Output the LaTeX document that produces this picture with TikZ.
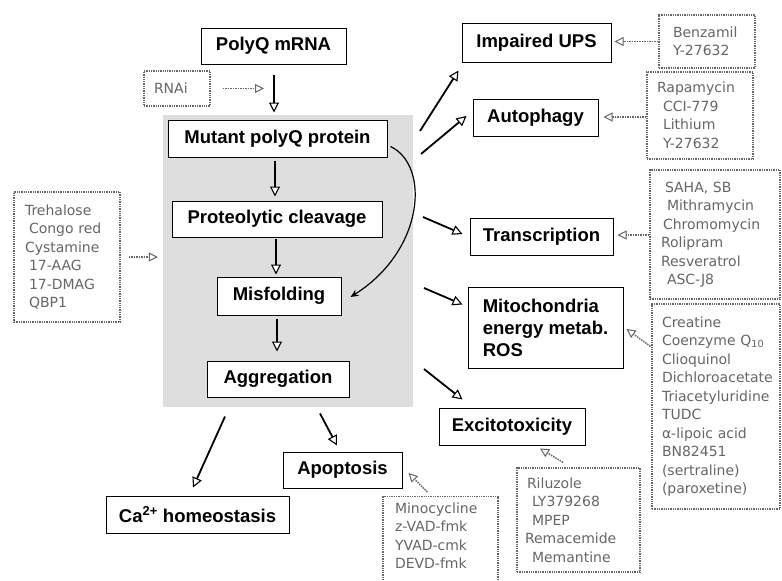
\documentclass[tikz,border=0pt]{standalone}
\usepackage{fontspec}
\setmainfont{Liberation Sans}
\newfontfamily\drugfont{DejaVu Sans}
\usetikzlibrary{arrows.meta,calc}
\begin{document}
\begin{tikzpicture}[x=1pt,y=-1pt,
  mbox/.style={draw=black, line width=1pt, fill=white, inner sep=0pt,
    font=\bfseries\fontsize{18.5}{22}\selectfont},
  drug/.style={draw=black!60, densely dotted, line width=1.3pt, text=black!60,
    font=\drugfont\fontsize{14}{18.5}\selectfont, align=left, inner ysep=0pt},
  flow/.style={line width=1.8pt, -{Triangle[fill=white, length=10pt, width=10pt, line width=1.1pt]}},
  drugarrow/.style={draw=black!60, densely dotted, line width=1.5pt,
    -{Triangle[fill=white, length=9pt, width=9pt, line width=1pt]}},
  curvearrow/.style={line width=1.2pt, -{Stealth[length=8pt, width=7pt]}}]
\useasboundingbox (0,0) rectangle (782,581);
\fill[white] (0,0) rectangle (782,581);

% shaded region
\node[fill=black!13, draw=none, minimum width=250, minimum height=292, inner sep=0pt] (region) at (288,261) {};

% main boxes
\node[mbox, minimum width=145, minimum height=36] (mrna) at (273.5,46) {PolyQ mRNA};
\node[mbox, minimum width=219, minimum height=37] (mutant) at (277.5,138.5) {Mutant polyQ protein};
\node[mbox, minimum width=210, minimum height=36] (cleave) at (277,219) {Proteolytic cleavage};
\node[mbox, minimum width=124, minimum height=38] (misf) at (279,296) {Misfolding};
\node[mbox, minimum width=142, minimum height=36] (aggr) at (278,379) {Aggregation};
\node[mbox, minimum width=149, minimum height=39] (ups) at (536.5,42.5) {Impaired UPS};
\node[mbox, minimum width=125, minimum height=37] (auto) at (535.5,117.5) {Autophagy};
\node[mbox, minimum width=143, minimum height=37] (trans) at (541.5,236.5) {Transcription};
\node[mbox, minimum width=155, minimum height=81, align=left] (mito) at (545.5,327.5) {Mitochondria\\energy metab.\\ROS};
\node[mbox, minimum width=146, minimum height=37] (excito) at (512,426.5) {Excitotoxicity};
\node[mbox, minimum width=119, minimum height=36] (apop) at (342.5,470) {Apoptosis};
\node[mbox, minimum width=183, minimum height=37] (ca) at (197.5,514.5) {Ca\textsuperscript{2+} homeostasis};

% drug boxes
\node[drug, inner xsep=10pt, text width=46pt, minimum height=35] (rnai) at (177,88.5) {RNAi};
\node[drug, inner xsep=11pt, text width=84pt, minimum height=130] (treh) at (67,257) {Trehalose\\\hspace*{4pt}Congo red\\Cystamine\\\hspace*{4pt}17-AAG\\\hspace*{4pt}17-DMAG\\\hspace*{4pt}QBP1};
\node[drug, inner xsep=14pt, text width=68pt, minimum height=53] (benz) at (707,41.5) {Benzamil\\Y-27632};
\node[drug, inner xsep=10pt, text width=86pt, minimum height=87] (rapa) at (700,115.5) {Rapamycin\\\hspace*{6pt}CCI-779\\\hspace*{6pt}Lithium\\\hspace*{6pt}Y-27632};
\node[drug, inner xsep=11pt, text width=108pt, minimum height=129] (saha) at (715,234.5) {\hspace*{4pt}SAHA, SB\\\hspace*{6pt}Mithramycin\\\hspace*{2pt}Chromomycin\\Rolipram\\Resveratrol\\\hspace*{6pt}ASC-J8};
\node[drug, inner xsep=10pt, text width=108pt, minimum height=205] (creat) at (716,406.5) {Creatine\\Coenzyme Q\textsubscript{10}\\Clioquinol\\Dichloroacetate\\Triacetyluridine\\TUDC\\α-lipoic acid\\BN82451\\(sertraline)\\(paroxetine)};
\node[drug, inner xsep=8pt, text width=107pt, minimum height=104] (rilu) at (578.5,520) {\hspace*{2pt}Riluzole\\\hspace*{7pt}LY379268\\\hspace*{7pt}MPEP\\Remacemide\\\hspace*{7pt}Memantine};
\node[drug, inner xsep=12pt, text width=91pt, inner ysep=6pt, anchor=north] (mino) at (440.5,496) {Minocycline\\z-VAD-fmk\\YVAD-cmk\\DEVD-fmk\vspace*{12pt}};

% flow arrows
\draw[flow] (mrna.south) ++(0.5,10) -- ($(mrna.south |- mutant.north)+(0.5,-7)$);
\draw[flow, shorten <=3pt, shorten >=4pt] (mutant.south -| 275,0) -- (cleave.north -| 275,0);
\draw[flow, shorten <=1pt, shorten >=2pt] (cleave.south -| 276,0) -- (misf.north -| 276,0);
\draw[flow, shorten <=3pt, shorten >=9pt] (misf.south -| 277,0) -- (aggr.north -| 277,0);

\coordinate (o1) at (420,131);
\coordinate (o2) at (421,154);
\coordinate (o3) at (423,217);
\coordinate (o4) at (424,288);
\coordinate (o5) at (424,369);
\draw[flow] (o1) -- ($(ups.south west)+(-3,8)$);
\draw[flow] (o2) -- ($(auto.west)+(-6,-1.5)$);
\draw[flow] (o3) -- ($(trans.west)+(-7,-2.5)$);
\draw[flow] (o4) -- ($(mito.north west)+(-5,18)$);
\draw[flow] (o5) -- ($(excito.north west)+(24,-8)$);
\draw[flow] ($(aggr.south)+(42,16)$) -- ($(apop.north)+(-5.5,-6)$);
\draw[flow] ($(aggr.south)+(-53,19)$) -- ($(ca.north)+(-4.5,-8)$);

% curved arrow
\draw[curvearrow] ($(mutant.east)+(3,8)$) .. controls (430,165) and (425,250) .. ($(misf.east)+(9,1)$);

% drug arrows
\coordinate (rnaitip) at (264,88.5);
\draw[drugarrow, shorten <=12pt] (rnai.east) -- (rnaitip);
\draw[drugarrow, shorten <=8pt, shorten >=5pt] (treh.east) -- (treh.east -| region.west);
\draw[drugarrow, shorten >=3pt] (benz.west) -- (benz.west -| ups.east);
\draw[drugarrow, shorten >=5pt] (rapa.west |- 0,117) -- (auto.east |- 0,117);
\draw[drugarrow, shorten >=4pt] (saha.west |- 0,235) -- (trans.east |- 0,235);
\draw[drugarrow] ($(creat.north west)+(-1,43)$) -- ($(mito.east)+(3,1.5)$);
\draw[drugarrow] ($(rilu.north)+(-15.5,-5)$) -- ($(excito.south)+(28,3)$);
\draw[drugarrow] ($(mino.north west)+(45,-4)$) -- ($(apop.east)+(6,3)$);
\end{tikzpicture}
\end{document}
